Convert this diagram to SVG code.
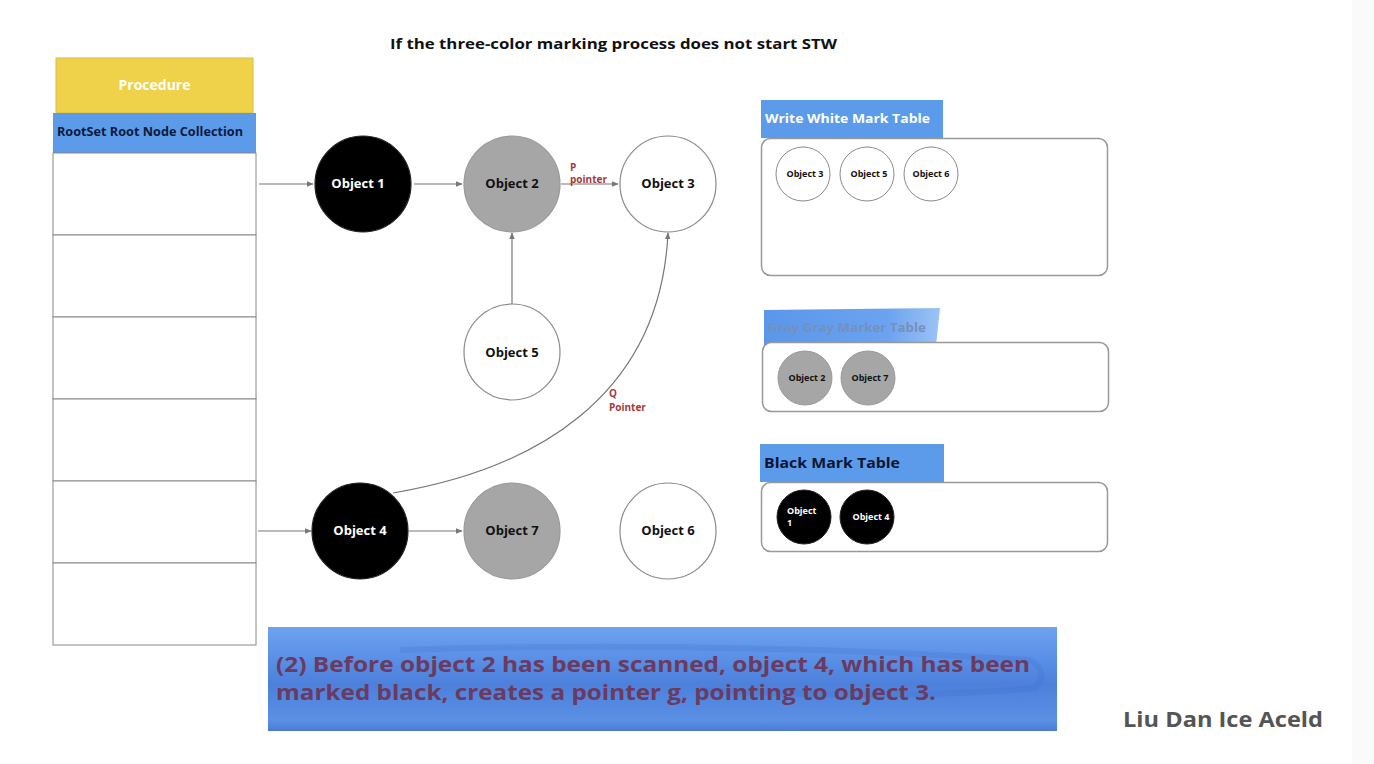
<svg xmlns="http://www.w3.org/2000/svg" width="1374" height="764" viewBox="0 0 1374 764">
<defs>
<marker id="arr" viewBox="0 0 10 10" refX="9" refY="5" markerWidth="7" markerHeight="7" orient="auto" markerUnits="userSpaceOnUse">
<path d="M0,1 L10,5 L0,9 z" fill="#777"/>
</marker>
<linearGradient id="ban" x1="0" y1="0" x2="0" y2="1">
<stop offset="0" stop-color="#6ea3ef"/>
<stop offset="0.3" stop-color="#5a90e6"/>
<stop offset="0.55" stop-color="#4c80dc"/>
<stop offset="0.9" stop-color="#5b90e4"/>
<stop offset="1" stop-color="#4a7bd2"/>
</linearGradient>
<linearGradient id="gh" x1="0" y1="0" x2="1" y2="0">
<stop offset="0" stop-color="#5a96ea"/>
<stop offset="0.7" stop-color="#6ba3f0"/>
<stop offset="1" stop-color="#9cc3f5"/>
</linearGradient>
</defs>
<style>
text{font-family:"Open Sans","Liberation Sans",sans-serif;font-weight:bold}
.big{stroke-width:1.2}
.blk{fill:#000;stroke:#222}
.gry{fill:#a6a6a6;stroke:#999}
.wht{fill:#fff;stroke:#8a8a8a}
.lbw{fill:#fff;font-size:13px}
.lbb{fill:#111;font-size:13px}
.sm{font-size:9px;fill:#111}
.smw{font-size:9px;fill:#fff}
.tbl{fill:#fff;stroke:#999;stroke-width:1.5}
.hdr{fill:#5b9bea}
.row{fill:#fff;stroke:#888;stroke-width:1}
.conn{stroke:#777;stroke-width:1.2;fill:none}
.red{fill:#a33a3a;font-size:10px}
</style>
<rect x="1352" y="0" width="22" height="764" fill="#fafafa"/>

<text x="390" y="49" font-size="14" fill="#111" textLength="447" lengthAdjust="spacingAndGlyphs">If the three-color marking process does not start STW</text>

<g id="procedure">
<rect x="56" y="58" width="197" height="55" fill="#f0d24a" stroke="#d8bc40"/>
<text x="154.5" y="90" text-anchor="middle" font-size="14" fill="#fff">Procedure</text>
</g>
<g id="rootset">
<rect x="53" y="113" width="203" height="40" class="hdr"/>
<text x="57" y="136" font-size="11.5" fill="#0c1a3c" textLength="186" lengthAdjust="spacingAndGlyphs">RootSet Root Node Collection</text>
<rect x="53" y="153" width="203" height="82" class="row"/>
<rect x="53" y="235" width="203" height="82" class="row"/>
<rect x="53" y="317" width="203" height="82" class="row"/>
<rect x="53" y="399" width="203" height="82" class="row"/>
<rect x="53" y="481" width="203" height="82" class="row"/>
<rect x="53" y="563" width="203" height="82" class="row"/>
</g>

<g id="connectors">
<line x1="259" y1="184" x2="313" y2="184" class="conn" marker-end="url(#arr)"/>
<line x1="414" y1="184" x2="462" y2="184" class="conn" marker-end="url(#arr)"/>
<line x1="561" y1="184" x2="618" y2="184" class="conn" marker-end="url(#arr)"/>
<line x1="512" y1="304" x2="512" y2="233" class="conn" marker-end="url(#arr)"/>
<line x1="258" y1="531" x2="311" y2="531" class="conn" marker-end="url(#arr)"/>
<line x1="409" y1="531" x2="462" y2="531" class="conn" marker-end="url(#arr)"/>
<path d="M393,493 C530,470 660,400 668,233" class="conn" marker-end="url(#arr)"/>
<text x="570" y="171" class="red">P</text>
<text x="570" y="183" class="red">pointer</text>
<text x="609" y="397" class="red" font-size="11">Q</text>
<text x="609" y="411" class="red" font-size="11">Pointer</text>
</g>

<g id="object1"><circle cx="363" cy="184" r="48" class="blk big"/><text x="358" y="188" text-anchor="middle" class="lbw" font-size="12">Object 1</text></g>
<g id="object2"><circle cx="512" cy="184" r="48" class="gry big"/><text x="512" y="188" text-anchor="middle" class="lbb">Object 2</text></g>
<g id="object3"><circle cx="668" cy="184" r="48" class="wht big"/><text x="668" y="188" text-anchor="middle" class="lbb">Object 3</text></g>
<g id="object5"><circle cx="512" cy="352" r="48" class="wht big"/><text x="512" y="357" text-anchor="middle" class="lbb">Object 5</text></g>
<g id="object4"><circle cx="360" cy="531" r="48" class="blk big"/><text x="360" y="535" text-anchor="middle" class="lbw">Object 4</text></g>
<g id="object7"><circle cx="512" cy="531" r="48" class="gry big"/><text x="512" y="535" text-anchor="middle" class="lbb">Object 7</text></g>
<g id="object6"><circle cx="668" cy="531" r="48" class="wht big"/><text x="668" y="535" text-anchor="middle" class="lbb">Object 6</text></g>

<g id="white-table">
<rect x="761" y="100" width="182" height="38" class="hdr"/>
<text x="765" y="123" font-size="13" fill="#fff" textLength="165" lengthAdjust="spacingAndGlyphs">Write White Mark Table</text>
<rect x="761.5" y="138.5" width="346" height="137" rx="9" class="tbl"/>
<circle cx="803" cy="174" r="27" class="wht"/><text x="805" y="177" text-anchor="middle" class="sm" font-size="8">Object 3</text>
<circle cx="867" cy="174" r="27" class="wht"/><text x="869" y="177" text-anchor="middle" class="sm">Object 5</text>
<circle cx="931" cy="174" r="27" class="wht"/><text x="931" y="177" text-anchor="middle" class="sm">Object 6</text>
</g>

<g id="gray-table">
<path d="M764,310 L940,308 L936,346 L764,347 z" fill="url(#gh)"/>
<text x="768" y="332" font-size="12.5" fill="#7590bc" textLength="158" lengthAdjust="spacingAndGlyphs">Gray Gray Marker Table</text>
<rect x="762.5" y="342.5" width="346" height="69" rx="9" class="tbl"/>
<circle cx="805" cy="378" r="27" class="gry"/><text x="807" y="381" text-anchor="middle" class="sm">Object 2</text>
<circle cx="868" cy="378" r="27" class="gry"/><text x="870" y="381" text-anchor="middle" class="sm">Object 7</text>
</g>

<g id="black-table">
<rect x="760" y="444" width="184" height="38" class="hdr"/>
<text x="764" y="468" font-size="15" fill="#0b1533" textLength="136" lengthAdjust="spacingAndGlyphs">Black Mark Table</text>
<rect x="761.5" y="482.5" width="346" height="69" rx="9" class="tbl"/>
<circle cx="804" cy="517" r="27" class="blk"/><text x="787" y="514" class="smw" font-size="7.5">Object</text><text x="787" y="526" class="smw" font-size="7.5">1</text>
<circle cx="867" cy="517" r="27" class="blk"/><text x="871" y="520" text-anchor="middle" class="smw">Object 4</text>
</g>

<g id="caption">
<rect x="268" y="627" width="789" height="104" fill="url(#ban)"/>
<path d="M400,650 Q700,640 1030,660 Q1050,672 1035,688 Q900,700 700,690" fill="none" stroke="#3f6fcc" stroke-width="6" opacity="0.25"/>
<text x="276" y="672" font-size="22" fill="#6b3a5e" textLength="754" lengthAdjust="spacingAndGlyphs">(2) Before object 2 has been scanned, object 4, which has been</text>
<text x="276" y="700" font-size="22" fill="#6b3a5e" textLength="660" lengthAdjust="spacingAndGlyphs">marked black, creates a pointer g, pointing to object 3.</text>
</g>

<text x="1123" y="727" font-size="22" fill="#555" textLength="200" lengthAdjust="spacingAndGlyphs">Liu Dan Ice Aceld</text>
</svg>
